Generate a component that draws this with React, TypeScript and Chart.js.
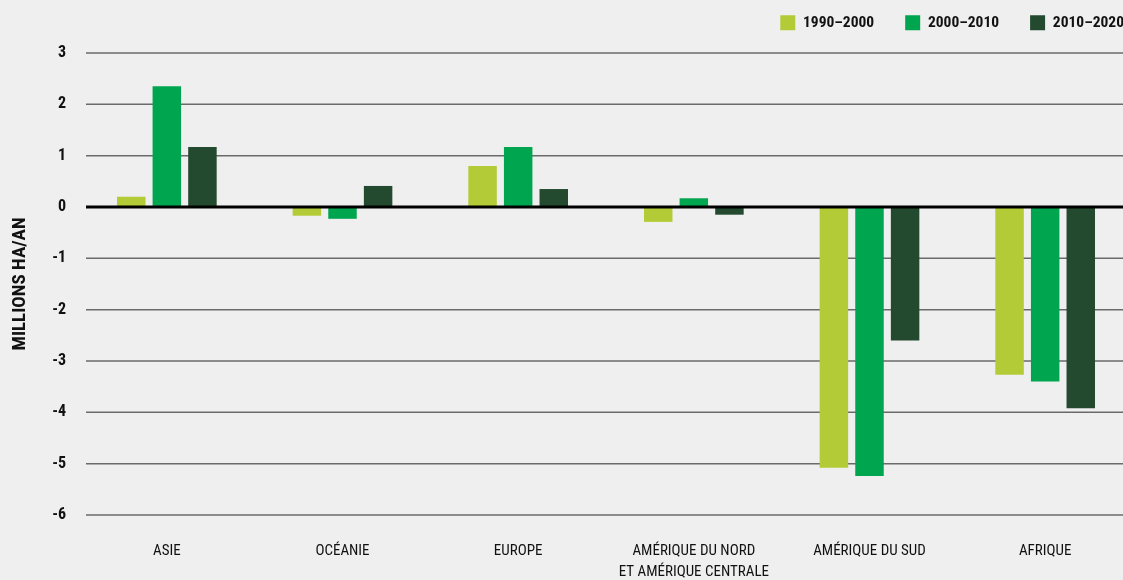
import React, { useEffect, useRef } from "react";
import { Chart, registerables } from "chart.js";

Chart.register(...registerables);

const categories: (string | string[])[] = [
  "ASIE",
  "OCÉANIE",
  "EUROPE",
  ["AMÉRIQUE DU NORD", "ET AMÉRIQUE CENTRALE"],
  "AMÉRIQUE DU SUD",
  "AFRIQUE",
];
const seriesNames = ["1990–2000", "2000–2010", "2010–2020"];
const s1990 = [0.2, -0.17, 0.8, -0.29, -5.08, -3.27];
const s2000 = [2.35, -0.23, 1.17, 0.17, -5.24, -3.4];
const s2010 = [1.17, 0.41, 0.35, -0.15, -2.6, -3.92];
const colors = ["#b2cb36", "#00a54f", "#234a2f"];
const yTitle = "MILLIONS HA/AN";

function pickFamily(): string {
  const candidates = [
    "Liberation Sans Narrow",
    "Roboto Condensed",
    "Open Sans Condensed",
    "DejaVu Sans Condensed",
  ];
  const c = document.createElement("canvas").getContext("2d")!;
  const sample = "AMÉRIQUE DU NORD 1990";
  c.font = "20px monospace";
  const base = c.measureText(sample).width;
  for (const f of candidates) {
    c.font = `20px '${f}', monospace`;
    if (Math.abs(c.measureText(sample).width - base) > 0.5) return `'${f}', sans-serif`;
  }
  return "'DejaVu Sans Condensed', sans-serif";
}

export default function App() {
  const ref = useRef<HTMLCanvasElement | null>(null);
  useEffect(() => {
    document.body.style.margin = "0";
    document.body.style.background = "#efefef";
    const FONT = pickFamily();
    const gridPlugin = {
      id: "customGrid",
      beforeDraw(chart: any) {
        const lg = chart.legend;
        if (lg) {
          const pad = lg.options.labels.padding;
          lg.right = 1124 + pad;
          lg.top = 15 - pad;
          lg.bottom = 60;
          lg.height = lg.bottom - lg.top;
          lg.width = lg.right - lg.left;
        }
      },
      beforeDatasetsDraw(chart: any) {
        const ys = chart.scales.y;
        const { right } = chart.chartArea;
        const c = chart.ctx;
        c.save();
        c.strokeStyle = "#6a6a6a";
        c.lineWidth = 1.5;
        ys.ticks.forEach((t: any) => {
          if (t.value === 0) return;
          const y = ys.getPixelForValue(t.value);
          c.beginPath();
          c.moveTo(86, y);
          c.lineTo(right, y);
          c.stroke();
        });
        c.restore();
      },
      afterDatasetsDraw(chart: any) {
        const y = chart.scales.y.getPixelForValue(0);
        const { right } = chart.chartArea;
        const c = chart.ctx;
        c.save();
        c.strokeStyle = "#000";
        c.lineWidth = 3;
        c.beginPath();
        c.moveTo(86, y);
        c.lineTo(right, y);
        c.stroke();
        c.restore();
      },
    };
    const chart = new Chart(ref.current!, {
      type: "bar",
      data: {
        labels: categories,
        datasets: [s1990, s2000, s2010].map((d, i) => ({
          label: seriesNames[i],
          data: d,
          backgroundColor: colors[i],
          categoryPercentage: 0.608,
          barPercentage: 0.8,
        })),
      },
      options: {
        animation: false,
        responsive: false,
        maintainAspectRatio: false,
        layout: { padding: 0 },
        plugins: {
          tooltip: { enabled: false },
          legend: {
            position: "top",
            align: "end",
            maxHeight: 40,
            labels: {
              boxWidth: 15,
              boxHeight: 15,
              padding: 31,
              color: "#111",
              font: { family: FONT, size: 15.5, weight: "bold" },
            },
          },
        },
        scales: {
          x: {
            grid: { display: false, drawTicks: false },
            border: { display: false },
            ticks: {
              color: "#111",
              padding: 26,
              maxRotation: 0,
              font: { family: FONT, size: 15, lineHeight: 1.4 },
            },
            afterFit(scale: any) {
              scale.height = 65;
            },
          },
          y: {
            min: -6,
            max: 3,
            grid: { display: false, drawTicks: false },
            border: { display: false },
            ticks: {
              stepSize: 1,
              color: "#111",
              padding: 13,
              font: { family: FONT, size: 16, weight: "bold" },
            },
            title: {
              display: true,
              text: yTitle,
              color: "#111",
              padding: { top: 9, bottom: 0 },
              font: { family: FONT, size: 19, weight: "bold" },
            },
            afterFit(scale: any) {
              scale.width = 79;
              scale.paddingTop = 53;
            },
          },
        },
      },
      plugins: [gridPlugin],
    });
    return () => chart.destroy();
  }, []);
  return (
    <div style={{ width: 1123, height: 580, overflow: "hidden", background: "#efefef" }}>
      <canvas ref={ref} width={1133} height={580} style={{ display: "block" }} />
    </div>
  );
}
